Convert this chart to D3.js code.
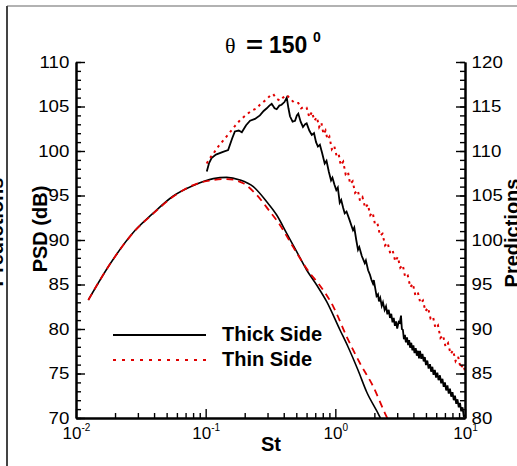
<!DOCTYPE html>
<html>
<head>
<meta charset="utf-8">
<script src="https://cdn.jsdelivr.net/npm/d3@7"></script>
<style>
body { margin: 0; background: #fff; }
text { font-family: "Liberation Sans", Arial, sans-serif; }
</style>
</head>
<body>
<svg id="chart" width="517" height="466"></svg>
<script>
// tick values
const xTicks = [0.01, 0.1, 1, 10];
const xTickExp = ["-2", "-1", "0", "1"];
const yLeftTicks = [70, 75, 80, 85, 90, 95, 100, 105, 110];
const yRightTicks = [80, 85, 90, 95, 100, 105, 110, 115, 120];

// predictions (left axis)
const thickPredSt = [0.01245, 0.0183, 0.0285, 0.0384, 0.0563, 0.0803, 0.1145, 0.1453, 0.184, 0.233, 0.2956, 0.353, 0.4216, 0.5035, 0.601, 0.718, 0.858, 1.086, 1.252, 1.495, 1.745, 2.198, 2.3];
const thickPredDb = [83.26, 87.30, 91.06, 92.87, 94.94, 96.12, 96.90, 97.04, 96.74, 95.99, 94.30, 92.81, 90.75, 88.69, 86.63, 84.94, 83.07, 79.89, 78.01, 75.39, 72.92, 70.15, 69.5];
const thinPredSt = [0.01245, 0.0183, 0.0285, 0.0384, 0.0563, 0.0904, 0.1145, 0.1453, 0.195, 0.2475, 0.3133, 0.374, 0.447, 0.534, 0.6377, 0.739, 0.9645, 1.224, 1.549, 1.962, 2.415, 2.55];
const thinPredDb = [83.26, 87.30, 91.04, 92.83, 94.88, 96.45, 96.74, 96.85, 96.37, 95.06, 93.18, 91.69, 89.81, 87.94, 86.26, 85.13, 82.51, 79.13, 76.15, 73.52, 70.53, 69.8];

// measurements (right axis)
const thickMeasSt = [0.102, 0.106, 0.111, 0.120, 0.136, 0.149, 0.160, 0.168, 0.180, 0.190, 0.205, 0.220, 0.240, 0.262, 0.280, 0.296, 0.310, 0.323, 0.340, 0.353, 0.370, 0.385, 0.405, 0.422, 0.435, 0.447, 0.468, 0.489, 0.505, 0.518, 0.540, 0.563, 0.585, 0.601, 0.630, 0.658, 0.685, 0.710, 0.734, 0.760, 0.790, 0.828, 0.855, 0.890, 0.927, 0.950, 0.985, 1.017, 1.045, 1.081, 1.110, 1.150, 1.181, 1.22, 1.29, 1.368, 1.40, 1.45, 1.496, 1.53, 1.60, 1.686, 1.72, 1.79, 1.85, 1.90, 1.951, 1.98, 2.03, 2.08, 2.133, 2.17, 2.22, 2.28, 2.33, 2.40, 2.46, 2.52, 2.58, 2.64, 2.70, 2.76, 2.82, 2.88, 2.94, 3.00, 3.08, 3.14, 3.21, 3.26, 3.32, 3.38, 3.44, 3.50, 3.57, 3.64, 3.71, 3.77, 3.85, 3.93, 4.00, 4.08, 4.17, 4.25, 4.34, 4.42, 4.50, 4.60, 4.70, 4.80, 4.90, 5.00, 5.12, 5.24, 5.37, 5.48, 5.60, 5.72, 5.85, 5.98, 6.12, 6.25, 6.41, 6.55, 6.70, 6.85, 7.00, 7.16, 7.32, 7.49, 7.66, 7.83, 8.01, 8.19, 8.37, 8.56, 8.75, 8.95, 9.15, 9.36, 9.57, 9.78, 10.0];
const thickMeasDb = [107.7, 108.6, 109.2, 109.6, 109.9, 110.1, 111.4, 112.2, 112.3, 112.1, 112.9, 113.4, 113.6, 114.0, 114.5, 114.8, 115.1, 115.3, 114.8, 114.7, 115.1, 115.2, 115.5, 116.0, 114.8, 113.9, 113.3, 113.4, 114.0, 114.2, 113.3, 112.7, 113.0, 113.1, 112.3, 111.8, 112.0, 111.0, 110.5, 110.7, 109.8, 108.6, 108.9, 107.7, 106.7, 107.0, 106.2, 105.6, 105.9, 104.2, 104.5, 103.6, 103.0, 103.2, 102.2, 101.1, 101.4, 100.0, 98.9, 99.2, 98.2, 97.4, 97.7, 96.6, 96.1, 95.5, 95.1, 95.5, 94.6, 93.7, 93.9, 93.1, 93.5, 92.6, 93.0, 92.15, 92.55, 91.65, 92.15, 91.25, 91.7, 90.75, 91.25, 90.35, 90.85, 90.05, 90.8, 90.7, 91.5, 90.0, 89.9, 88.85, 89.35, 88.5, 89.05, 88.2, 88.75, 87.9, 88.45, 87.6, 88.15, 87.3, 87.85, 87.0, 87.55, 86.7, 87.55, 86.65, 87.2, 86.35, 86.85, 85.95, 86.45, 85.55, 86.05, 85.2, 85.75, 84.85, 85.4, 84.55, 85.1, 84.25, 84.8, 83.9, 84.4, 83.5, 84.0, 83.1, 83.65, 82.75, 83.3, 82.4, 82.9, 82.0, 82.5, 81.6, 82.1, 81.2, 81.7, 80.75, 81.2, 80.2, 80.3];
const thinMeasSt = [0.1018, 0.108, 0.1146, 0.125, 0.1368, 0.150, 0.168, 0.185, 0.207, 0.225, 0.2474, 0.262, 0.278, 0.300, 0.317, 0.332, 0.350, 0.374, 0.395, 0.4217, 0.440, 0.4607, 0.485, 0.518, 0.545, 0.575, 0.60, 0.63, 0.66, 0.69, 0.72, 0.75, 0.78, 0.81, 0.84, 0.87, 0.90, 0.94, 0.98, 1.02, 1.06, 1.10, 1.15, 1.20, 1.25, 1.30, 1.36, 1.42, 1.49, 1.55, 1.62, 1.70, 1.78, 1.86, 1.94, 2.02, 2.11, 2.21, 2.31, 2.42, 2.53, 2.65, 2.77, 2.90, 3.03, 3.17, 3.31, 3.46, 3.62, 3.79, 3.96, 4.14, 4.33, 4.53, 4.74, 4.95, 5.18, 5.42, 5.66, 5.92, 6.19, 6.47, 6.77, 7.08, 7.40, 7.74, 8.09, 8.46, 8.85, 9.25, 9.67, 10.0];
const thinMeasDb = [108.6, 109.2, 109.7, 110.5, 111.2, 111.9, 112.8, 113.5, 114.1, 114.5, 114.8, 115.2, 115.5, 115.9, 116.3, 116.4, 115.9, 115.65, 116.0, 116.3, 116.0, 115.7, 115.4, 115.4, 114.8, 115.0, 114.9, 113.8, 114.4, 113.4, 113.8, 112.7, 113.2, 111.9, 112.3, 111.3, 111.6, 110.2, 110.6, 109.5, 109.7, 108.4, 108.8, 107.4, 107.7, 106.3, 106.6, 105.3, 105.6, 104.4, 104.8, 103.6, 104.0, 102.8, 103.1, 101.8, 101.9, 100.5, 100.7, 99.4, 99.7, 98.5, 98.8, 97.6, 98.1, 96.9, 97.2, 95.8, 96.0, 94.7, 95.1, 93.8, 94.1, 92.9, 93.2, 92.0, 92.4, 91.2, 91.4, 90.1, 90.4, 89.0, 89.3, 88.0, 88.4, 87.2, 87.6, 86.4, 86.9, 85.6, 86.0, 85.3];

const red = "#e00000";
const svg = d3.select("#chart");

const x = d3.scaleLog().domain([0.01, 10]).range([76, 465]);
const yL = d3.scaleLinear().domain([70, 110]).range([418, 62]);
const yR = d3.scaleLinear().domain([80, 120]).range([418, 62]);

// frame remnants from the source figure
svg.append("line").attr("x1", 7).attr("x2", 517).attr("y1", 6).attr("y2", 6)
  .attr("stroke", "#999").attr("stroke-width", 1.5);
svg.append("line").attr("x1", 7).attr("x2", 7).attr("y1", 6).attr("y2", 466)
  .attr("stroke", "#444").attr("stroke-width", 2);

// curves
svg.append("clipPath").attr("id", "plotclip").append("rect")
  .attr("x", 76).attr("y", 62).attr("width", 389).attr("height", 356);
const plot = svg.append("g").attr("clip-path", "url(#plotclip)");

function zip(a, b) { return a.map((v, i) => [v, b[i]]); }
const lineL = d3.line().x(d => x(d[0])).y(d => yL(d[1])).curve(d3.curveMonotoneX);
const lineR = d3.line().x(d => x(d[0])).y(d => yR(d[1]));

plot.append("path").attr("d", lineL(zip(thickPredSt, thickPredDb)))
  .attr("fill", "none").attr("stroke", "#000").attr("stroke-width", 1.6);
plot.append("path").attr("d", lineL(zip(thinPredSt, thinPredDb)))
  .attr("fill", "none").attr("stroke", red).attr("stroke-width", 1.8)
  .attr("stroke-dasharray", "7,5");
plot.append("path").attr("d", lineR(zip(thickMeasSt, thickMeasDb)))
  .attr("fill", "none").attr("stroke", "#000").attr("stroke-width", 1.8);
plot.append("path").attr("d", lineR(zip(thinMeasSt, thinMeasDb)))
  .attr("fill", "none").attr("stroke", red).attr("stroke-width", 2)
  .attr("stroke-dasharray", "2.5,4");

// axes
function styleAxis(g) {
  g.select(".domain").attr("stroke-width", 2);
  g.selectAll(".tick line").attr("stroke-width", 1.4);
}
const minorX = [];
[0.01, 0.1, 1].forEach(d => { for (let k = 2; k <= 9; k++) minorX.push(d * k); });
const minorY = d3.range(70, 111, 1);
const minorYR = d3.range(80, 121, 1);

svg.append("g").attr("transform", "translate(0,418)")
  .call(d3.axisBottom(x).tickValues(minorX).tickSizeInner(-5).tickSizeOuter(0).tickFormat(""))
  .call(styleAxis);
const xa = svg.append("g").attr("transform", "translate(0,418)")
  .call(d3.axisBottom(x).tickValues(xTicks).tickSizeInner(-9).tickSizeOuter(0).tickFormat(""))
  .call(styleAxis);
xa.selectAll(".tick").each(function(d, i) {
  const t = d3.select(this).append("text").attr("fill", "#000")
    .attr("text-anchor", "middle").attr("y", 21).attr("font-size", 17);
  t.append("tspan").text("10");
  t.append("tspan").attr("dy", -8).attr("font-size", 10).text(xTickExp[i]);
});

svg.append("g").attr("transform", "translate(76,0)")
  .call(d3.axisLeft(yL).tickValues(minorY).tickSizeInner(-5).tickSizeOuter(0).tickFormat(""))
  .call(styleAxis);
svg.append("g").attr("transform", "translate(76,0)")
  .call(d3.axisLeft(yL).tickValues(yLeftTicks).tickSizeInner(-9).tickSizeOuter(0).tickPadding(6))
  .call(styleAxis)
  .call(g => g.selectAll("text").attr("font-size", 17).attr("fill", "#000")
    .attr("transform", "scale(1.1,1)"));

svg.append("g").attr("transform", "translate(465,0)")
  .call(d3.axisRight(yR).tickValues(minorYR).tickSizeInner(-5).tickSizeOuter(0).tickFormat(""))
  .call(styleAxis);
svg.append("g").attr("transform", "translate(465,0)")
  .call(d3.axisRight(yR).tickValues(yRightTicks).tickSizeInner(-9).tickSizeOuter(0).tickPadding(6))
  .call(styleAxis)
  .call(g => g.selectAll("text").attr("font-size", 17).attr("fill", "#000")
    .attr("transform", "scale(1.1,1)"));

// title
svg.append("text").attr("x", 225).attr("y", 53).attr("font-size", 22)
  .style("font-family", "'Liberation Serif', serif").text("θ");
svg.append("text").attr("x", 246).attr("y", 53).attr("font-size", 23).attr("font-weight", "bold")
  .attr("textLength", 17).attr("lengthAdjust", "spacingAndGlyphs").text("=");
svg.append("text").attr("x", 269).attr("y", 53).attr("font-size", 23).attr("font-weight", "bold").text("150");
svg.append("text").attr("x", 313).attr("y", 42).attr("font-size", 14).attr("font-weight", "bold").text("0");

// axis titles
svg.append("text").attr("x", 271).attr("y", 451).attr("text-anchor", "middle")
  .attr("font-size", 20).attr("font-weight", "bold").text("St");
svg.append("text").attr("transform", "translate(46.5,229) rotate(-90)").attr("text-anchor", "middle")
  .attr("font-size", 20).attr("font-weight", "bold").text("PSD (dB)");
svg.append("text").attr("transform", "translate(3,232) rotate(-90)").attr("text-anchor", "middle")
  .attr("font-size", 20).attr("font-weight", "bold").text("Predictions");
svg.append("text").attr("transform", "translate(519,233) rotate(-90)").attr("text-anchor", "middle")
  .attr("font-size", 20).attr("font-weight", "bold").text("Predictions");

// legend
svg.append("line").attr("x1", 113).attr("x2", 206).attr("y1", 335).attr("y2", 335)
  .attr("stroke", "#000").attr("stroke-width", 2);
svg.append("line").attr("x1", 113).attr("x2", 206).attr("y1", 360).attr("y2", 360)
  .attr("stroke", red).attr("stroke-width", 2).attr("stroke-dasharray", "3,6");
svg.append("text").attr("x", 222).attr("y", 341).attr("font-size", 20).attr("font-weight", "bold").text("Thick Side");
svg.append("text").attr("x", 222).attr("y", 366).attr("font-size", 20).attr("font-weight", "bold").text("Thin Side");
</script>
</body>
</html>
